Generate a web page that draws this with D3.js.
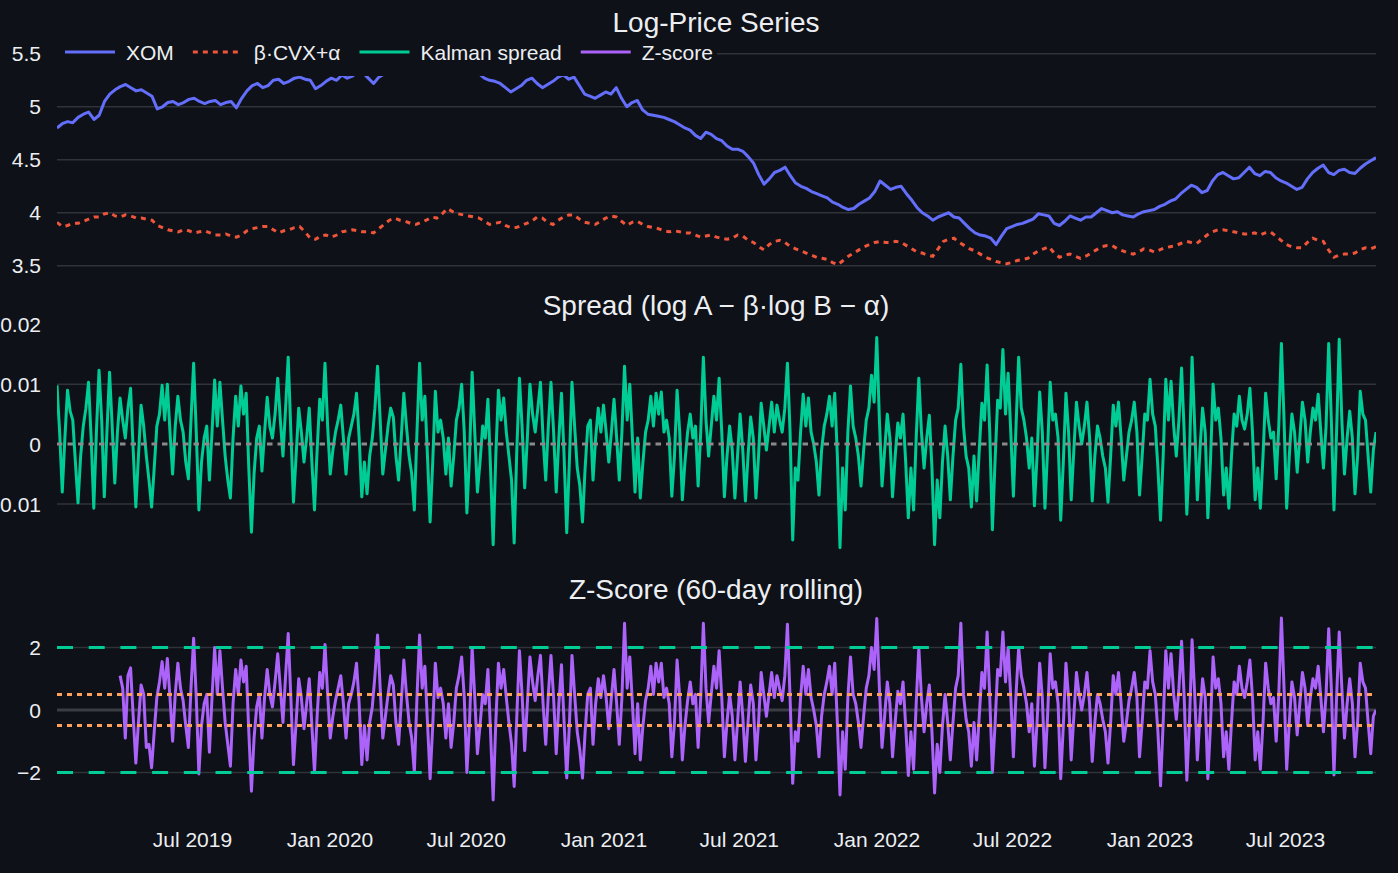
<!DOCTYPE html>
<html><head><meta charset="utf-8">
<script src="https://cdn.jsdelivr.net/npm/d3@7"></script>
<style>html,body{margin:0;padding:0;background:#0e1117;}svg{display:block;}</style>
</head><body>
<svg id="chart" width="1398" height="873"></svg>
<script>
// ---------------- data ----------------
const startDate = "2019-01-01";
const endDate = "2023-10-30";

const xTickDates = ["2019-07-01","2020-01-01","2020-07-01","2021-01-01","2021-07-01","2022-01-01","2022-07-01","2023-01-01","2023-07-01"];
const xTickLabels = ["Jul 2019","Jan 2020","Jul 2020","Jan 2021","Jul 2021","Jan 2022","Jul 2022","Jan 2023","Jul 2023"];

// log price of XOM (weekly, evenly spaced over the date range)
const xomLog = [
4.80,4.84,4.86,4.85,4.90,4.93,4.95,4.88,4.92,5.05,5.12,5.16,5.19,5.21,5.18,5.15,5.16,5.13,5.10,4.98,
5.00,5.04,5.05,5.02,5.04,5.07,5.08,5.05,5.03,5.05,5.06,5.02,5.04,5.05,4.99,5.08,5.15,5.20,5.22,5.18,
5.20,5.25,5.26,5.22,5.24,5.27,5.28,5.26,5.25,5.17,5.20,5.24,5.27,5.25,5.30,5.27,5.29,5.33,5.32,5.27,
5.22,5.28,5.31,5.35,5.38,5.40,5.42,5.39,5.36,5.35,5.33,5.37,5.40,5.43,5.45,5.41,5.38,5.36,5.34,5.33,
5.31,5.27,5.25,5.24,5.22,5.18,5.14,5.17,5.20,5.25,5.27,5.22,5.18,5.21,5.24,5.28,5.30,5.26,5.28,5.20,
5.12,5.10,5.08,5.11,5.14,5.12,5.18,5.08,5.00,5.04,5.06,4.97,4.93,4.92,4.91,4.90,4.88,4.86,4.83,4.80,
4.78,4.73,4.70,4.76,4.74,4.70,4.68,4.63,4.60,4.60,4.58,4.53,4.47,4.36,4.27,4.32,4.38,4.40,4.43,4.35,
4.28,4.25,4.23,4.20,4.18,4.16,4.14,4.10,4.08,4.05,4.03,4.04,4.08,4.11,4.14,4.20,4.30,4.26,4.22,4.24,
4.25,4.18,4.12,4.05,4.00,3.97,3.93,3.96,3.98,4.00,3.96,3.95,3.90,3.85,3.81,3.79,3.78,3.76,3.70,3.78,
3.85,3.87,3.89,3.90,3.92,3.94,3.99,3.98,3.97,3.90,3.88,3.92,3.97,3.95,3.93,3.96,3.96,4.00,4.04,4.02,
4.00,4.01,3.98,3.97,3.96,3.99,4.01,4.02,4.03,4.06,4.08,4.11,4.13,4.18,4.22,4.26,4.24,4.19,4.21,4.30,
4.36,4.38,4.35,4.32,4.33,4.38,4.43,4.37,4.35,4.39,4.38,4.33,4.30,4.28,4.25,4.22,4.24,4.32,4.38,4.42,
4.45,4.38,4.36,4.40,4.41,4.38,4.37,4.42,4.46,4.49,4.52];

// beta * log CVX + alpha (weekly)
const cvxFit = [
3.91,3.87,3.88,3.90,3.90,3.92,3.94,3.96,3.96,3.99,4.00,3.97,3.96,3.98,3.97,3.95,3.95,3.94,3.93,3.88,
3.86,3.84,3.83,3.82,3.84,3.83,3.81,3.82,3.83,3.81,3.79,3.79,3.80,3.78,3.77,3.79,3.83,3.85,3.86,3.87,
3.87,3.84,3.81,3.83,3.84,3.86,3.87,3.82,3.76,3.75,3.78,3.79,3.77,3.79,3.82,3.83,3.84,3.83,3.82,3.82,
3.81,3.85,3.89,3.93,3.95,3.93,3.92,3.90,3.89,3.91,3.93,3.96,3.95,3.99,4.04,4.01,3.99,3.98,3.97,3.96,
3.95,3.92,3.89,3.90,3.91,3.88,3.86,3.86,3.88,3.90,3.92,3.96,3.95,3.91,3.89,3.93,3.96,3.98,3.98,3.94,
3.91,3.90,3.89,3.92,3.95,3.97,3.96,3.92,3.88,3.91,3.92,3.89,3.87,3.86,3.85,3.83,3.82,3.83,3.82,3.81,
3.81,3.79,3.77,3.78,3.79,3.77,3.76,3.75,3.76,3.79,3.78,3.74,3.72,3.68,3.65,3.70,3.73,3.74,3.72,3.68,
3.66,3.64,3.62,3.60,3.58,3.57,3.56,3.53,3.51,3.55,3.59,3.62,3.65,3.68,3.70,3.72,3.73,3.72,3.72,3.73,
3.72,3.69,3.66,3.63,3.62,3.60,3.59,3.66,3.73,3.75,3.76,3.72,3.69,3.66,3.64,3.61,3.58,3.56,3.54,3.53,
3.52,3.53,3.55,3.56,3.57,3.61,3.64,3.66,3.68,3.62,3.58,3.60,3.61,3.59,3.57,3.59,3.62,3.65,3.68,3.69,
3.69,3.66,3.64,3.62,3.61,3.63,3.66,3.65,3.63,3.65,3.67,3.68,3.69,3.71,3.73,3.72,3.71,3.75,3.79,3.82,
3.84,3.84,3.83,3.82,3.81,3.80,3.80,3.81,3.79,3.81,3.82,3.78,3.74,3.70,3.68,3.67,3.67,3.72,3.76,3.74,
3.73,3.65,3.58,3.60,3.61,3.61,3.62,3.65,3.67,3.66,3.68];

// Kalman spread (twice weekly)
const spread = [
.0098,.002,-.008,.001,.009,.0055,.004,-.003,-.0098,-.002,.003,.006,.0103,.001,-.0107,.002,.0123,.004,-.0088,.002,
.012,.003,-.0065,.002,.0077,.004,.001,.006,.0093,-.001,-.0105,-.002,.0065,.003,-.002,-.006,-.0105,-.004,.003,.005,
.0098,.004,.010,.002,-.005,.003,.008,.004,.002,-.003,-.0058,.004,.0135,.002,-.011,-.003,.001,.003,-.006,.002,
.0107,.003,.0103,.004,-.002,-.006,-.009,.001,.008,.003,.0097,.005,.0085,-.004,-.0147,-.005,.001,.003,-.0045,.002,
.0078,.003,.001,.005,.011,.004,-.002,.006,.0145,.002,-.0097,-.002,.006,.002,-.003,.001,.006,-.003,-.011,-.001,
.0075,.004,.0135,.003,-.005,-.001,.002,.004,.0065,.001,-.005,.001,.003,.005,.0085,.001,-.0088,-.003,-.0083,-.002,
.001,.006,.013,.004,-.005,-.001,.003,.006,.0045,-.002,-.006,.001,.0085,.003,-.002,-.005,-.011,.002,.0135,.004,
.008,-.002,-.013,-.003,.0088,.002,.004,.001,-.005,.001,-.007,-.002,.004,.006,.010,.002,-.0115,-.002,.012,.002,
-.008,-.003,.003,.001,.0075,-.004,-.0168,-.002,.009,.004,.0077,.002,-.002,-.006,-.0165,-.001,.011,.003,-.0073,.001,
.010,.005,.002,.006,.0103,.001,-.006,.003,.0103,.002,-.008,.001,.0085,-.002,-.0148,-.003,.0103,.003,-.004,-.007,
-.013,-.004,.003,.004,-.006,.001,.006,.002,.0065,.002,-.003,.002,.0075,.001,-.006,.002,.013,.004,.010,.001,
-.008,.001,-.009,-.003,.002,.004,.008,.003,.0085,.005,.0087,.002,.004,.001,-.0087,-.002,.009,.002,-.0093,-.003,
.002,.005,.001,.003,-.007,.002,.0145,.004,-.002,.003,.008,.004,.011,.002,-.0088,-.002,.003,-.001,-.009,-.002,
.005,-.001,-.0095,-.002,.0045,.001,-.009,-.002,.0068,.003,-.001,.003,.007,.002,.0065,.004,.002,.006,.0135,.002,
-.016,-.004,-.006,.002,.0083,.003,.0077,.002,0,-.003,-.0085,-.001,.003,.005,.008,.003,.0085,-.002,-.0173,-.004,
-.011,.002,.0097,.003,.001,-.002,-.007,-.001,.004,.006,.0115,.007,.0178,.004,-.007,-.001,.005,.001,-.0088,-.002,
.0035,.001,.005,-.003,-.0123,-.004,-.011,.001,.011,.002,-.004,.001,.0048,-.004,-.0168,-.006,-.0123,-.003,.003,-.002,
-.0093,-.002,.004,.006,.0133,.003,-.002,-.004,-.0105,-.002,-.0095,-.001,.0068,.004,.0132,.002,-.0143,-.003,.0073,.006,
.0158,.005,.0118,.002,-.0087,.003,.0145,.006,.004,.001,-.004,.001,-.0103,-.002,.0087,.002,-.0107,-.001,.0103,.004,
.005,.001,-.0127,-.003,.0085,.002,-.0093,-.001,.007,.003,0,.003,.007,.001,-.0095,-.002,.003,.001,-.002,-.004,
-.0097,-.002,.0065,.003,.007,.001,-.006,-.002,.002,.004,.007,.002,-.0085,-.002,.005,.004,.0108,.005,.003,-.004,
-.0127,-.002,.0108,.004,.0105,.003,-.002,.004,.0127,.002,-.0117,-.002,.0145,.003,-.0093,-.001,.006,.002,-.0123,-.003,
.010,.004,.006,.001,-.0085,-.004,-.0107,-.002,.005,.003,.008,.004,.0025,.005,.0093,.002,-.0093,-.004,-.0107,-.002,
.0085,.004,.001,.002,-.0058,.003,.0168,.004,-.0107,-.002,.005,.002,-.0047,.001,.007,.004,-.003,.002,.006,.004,
.0083,.002,-.004,.003,.0168,.004,-.011,.002,.0175,.004,-.005,.001,.0055,.001,-.0083,-.002,.0088,.005,.004,-.002,
-.008,-.001,.002];

// 60-day rolling z-score (same sampling as spread, first value at sample 24)
const zStartSample = 24;
const zscore = [
1.1,0.7,-0.9,1.1,1.35,-0.2,-1.7,-0.4,0.8,0.5,-1.2,-1.1,-1.85,-0.7,0.4,0.9,
1.55,0.7,1.65,0.4,-1.0,0.5,1.5,0.7,0.3,-0.5,-1.2,0.7,2.3,0.4,-2.05,-0.5,0.2,0.5,-1.35,0.4,
2.0,0.5,1.9,0.7,-0.4,-1.1,-1.8,0.2,1.3,0.5,1.6,0.9,1.4,-0.7,-2.6,-0.9,0.1,0.5,-0.9,0.4,
1.3,0.5,0.1,0.9,1.8,0.7,-0.4,1.1,2.45,0.4,-1.75,-0.4,1.0,0.4,-0.6,0.2,1.0,-0.5,-2.0,-0.2,
1.2,0.7,2.1,0.5,-0.9,-0.2,0.3,0.7,1.1,0.2,-0.9,0.2,0.5,0.9,1.5,0.2,-1.75,-0.5,-1.6,-0.4,
0.1,1.1,2.4,0.7,-0.9,-0.2,0.5,1.1,0.8,-0.4,-1.1,0.2,1.6,0.5,-0.4,-0.9,-2.0,0.4,2.4,0.7,
1.4,-0.4,-2.2,-0.5,1.5,0.4,0.7,0.2,-0.9,0.2,-1.2,-0.4,0.7,1.1,1.7,0.4,-2.0,-0.4,2.0,0.4,
-1.4,-0.5,0.5,0.2,1.3,-0.7,-2.88,-0.4,1.5,0.7,1.3,0.4,-0.4,-1.1,-2.45,-0.2,1.9,0.5,-1.3,0.2,
1.7,0.9,0.3,1.1,1.75,0.2,-1.1,0.5,1.75,0.4,-1.4,0.2,1.45,-0.4,-2.18,-0.5,1.75,0.5,-0.7,-1.3,
-2.18,-0.7,0.5,0.7,-1.1,0.2,1.0,0.4,1.1,0.4,-0.6,0.4,1.3,0.2,-1.1,0.4,2.78,0.7,1.7,0.2,
-1.4,0.2,-1.6,-0.5,0.3,0.7,1.4,0.5,1.5,0.9,1.5,0.4,0.7,0.2,-1.5,-0.4,1.6,0.4,-1.6,-0.5,
0.3,0.9,0.2,0.5,-1.2,0.4,2.78,0.7,-0.4,0.5,1.4,0.7,1.9,0.4,-1.5,-0.4,0.5,-0.2,-1.6,-0.4,
0.9,-0.2,-1.65,-0.4,0.8,0.2,-1.6,-0.4,1.2,0.5,-0.2,0.5,1.2,0.4,1.1,0.7,0.3,1.1,2.75,0.4,
-2.35,-0.7,-1.0,0.4,1.4,0.5,1.3,0.4,0.0,-0.5,-1.5,-0.2,0.5,0.9,1.4,0.5,1.5,-0.4,-2.72,-0.7,
-1.9,0.4,1.7,0.5,0.2,-0.4,-1.2,-0.2,0.7,1.1,2.0,1.3,2.93,0.7,-1.2,-0.2,0.9,0.2,-1.5,-0.4,
0.6,0.2,0.9,-0.5,-2.1,-0.7,-1.9,0.2,2.0,0.4,-0.7,0.2,0.8,-0.7,-2.66,-1.1,-2.0,-0.5,0.5,-0.4,
-1.6,-0.4,0.7,1.1,2.78,0.5,-0.3,-0.7,-1.8,-0.4,-1.6,-0.2,1.2,0.7,2.5,0.4,-2.0,-0.5,1.3,1.1,
2.5,0.9,2.0,0.4,-1.5,0.5,2.0,1.1,0.7,0.2,-0.7,0.2,-1.8,-0.4,1.5,0.4,-1.85,-0.2,1.8,0.7,
0.9,0.2,-2.2,-0.5,1.5,0.4,-1.6,-0.2,1.2,0.5,0.0,0.5,1.2,0.2,-1.65,-0.4,0.5,0.2,-0.3,-0.7,
-1.7,-0.4,1.1,0.5,1.2,0.2,-1.0,-0.4,0.3,0.7,1.2,0.4,-1.5,-0.4,0.9,0.7,1.9,0.9,0.5,-0.7,
-2.43,-0.4,1.9,0.7,1.8,0.5,-0.3,0.7,2.2,0.4,-2.25,-0.4,2.25,0.5,-1.6,-0.2,1.0,0.4,-2.2,-0.5,
1.7,0.7,1.0,0.2,-1.5,-0.7,-1.9,-0.4,0.9,0.5,1.4,0.7,0.4,0.9,1.6,0.4,-1.6,-0.7,-1.9,-0.4,
1.5,0.7,0.2,0.4,-1.0,0.5,2.95,0.7,-1.9,-0.4,0.9,0.4,-0.8,0.2,1.2,0.7,-0.5,0.4,1.0,0.7,
1.4,0.4,-0.7,0.5,2.6,0.7,-2.08,0.4,2.5,0.7,-0.9,0.2,1.0,0.2,-1.5,-0.4,1.5,0.9,0.7,-0.4,
-1.4,-0.2,0.0];

const priceTicks = [3.5, 4, 4.5, 5, 5.5];
const priceTickLabels = ["3.5","4","4.5","5","5.5"];
const spreadTicks = [-0.01, 0, 0.01, 0.02];
const spreadTickLabels = ["\u22120.01","0","0.01","0.02"];
const zTicks = [-2, 0, 2];
const zTickLabels = ["\u22122","0","2"];
const entryBands = [2, -2];
const exitBands = [0.5, -0.5];

const legendNames = ["XOM", "\u03b2\u00b7CVX+\u03b1", "Kalman spread", "Z-score"];
const titles = ["Log-Price Series", "Spread (log A \u2212 \u03b2\u00b7log B \u2212 \u03b1)", "Z-Score (60-day rolling)"];

// ---------------- drawing ----------------
const BG = "#0e1117", GRID = "#30333a", TXT = "#eceef2";
const C_XOM = "#636efa", C_CVX = "#ef553b", C_SPR = "#00cc96", C_Z = "#ab63fa", C_EXIT = "#ffa15a";
const FONT = "'Liberation Sans', Arial, sans-serif";

const svg = d3.select("#chart");
svg.append("rect").attr("width",1398).attr("height",873).attr("fill",BG);

const L = 57, R = 1376;
const t0 = new Date(startDate + "T00:00:00"), t1 = new Date(endDate + "T00:00:00");
const x = d3.scaleTime().domain([t0, t1]).range([L, R]);
const evenDates = n => d3.range(n).map(i => new Date(+t0 + i * (t1 - t0) / (n - 1)));
const priceDates = evenDates(xomLog.length);
const spreadDates = evenDates(spread.length);

const panels = [
  {y: d3.scaleLinear().domain([3.46, 5.63]).range([270, 40]), ticks: priceTicks, labels: priceTickLabels, grid: priceTicks},
  {y: d3.scaleLinear().domain([-0.0185, 0.0202]).range([555, 323]), ticks: spreadTicks, labels: spreadTickLabels, grid: [-0.01, 0.01]},
  {y: d3.scaleLinear().domain([-3.3, 3.3]).range([813, 607]), ticks: zTicks, labels: zTickLabels, grid: [-2, 2]}
];

panels.forEach((p, k) => {
  const [y1, y0] = p.y.range();
  svg.append("clipPath").attr("id", "clip" + k).append("rect")
    .attr("x", L).attr("y", y0).attr("width", R - L).attr("height", y1 - y0);
  svg.append("g").selectAll("line").data(p.grid).join("line")
    .attr("x1", L).attr("x2", R).attr("y1", d => p.y(d)).attr("y2", d => p.y(d))
    .attr("stroke", GRID).attr("stroke-width", 1.5);
  svg.append("g").selectAll("text").data(p.ticks).join("text")
    .attr("x", 41).attr("y", d => p.y(d)).attr("dy", "0.36em")
    .attr("text-anchor", "end").attr("font-family", FONT).attr("font-size", 21)
    .attr("fill", TXT).text((d, i) => p.labels[i]);
});

const pz = panels[2];
svg.append("line").attr("x1", L).attr("x2", R).attr("y1", pz.y(0)).attr("y2", pz.y(0))
  .attr("stroke", "#3a3d44").attr("stroke-width", 3);

const lineGen = (dates, ys) => d3.line().x((d, i) => x(dates[i])).y(d => ys(d));

const g0 = svg.append("g").attr("clip-path", "url(#clip0)");
g0.append("path").datum(xomLog).attr("d", lineGen(priceDates, panels[0].y))
  .attr("fill", "none").attr("stroke", C_XOM).attr("stroke-width", 3).attr("stroke-linejoin", "round");
g0.append("path").datum(cvxFit).attr("d", lineGen(priceDates, panels[0].y))
  .attr("fill", "none").attr("stroke", C_CVX).attr("stroke-width", 3).attr("stroke-dasharray", "5,5");

const g1 = svg.append("g").attr("clip-path", "url(#clip1)");
g1.append("path").datum(spread).attr("d", lineGen(spreadDates, panels[1].y))
  .attr("fill", "none").attr("stroke", C_SPR).attr("stroke-width", 3).attr("stroke-linejoin", "round");
svg.append("line").attr("x1", L).attr("x2", R).attr("y1", panels[1].y(0)).attr("y2", panels[1].y(0))
  .attr("stroke", "#8a8a8a").attr("stroke-width", 3).attr("stroke-dasharray", "5.5,5");

const g2 = svg.append("g").attr("clip-path", "url(#clip2)");
const zDates = spreadDates.slice(zStartSample);
g2.append("path").datum(zscore).attr("d", lineGen(zDates, pz.y))
  .attr("fill", "none").attr("stroke", C_Z).attr("stroke-width", 3).attr("stroke-linejoin", "round");
svg.append("g").selectAll("line").data(exitBands).join("line")
  .attr("x1", L).attr("x2", R).attr("y1", d => pz.y(d)).attr("y2", d => pz.y(d))
  .attr("stroke", C_EXIT).attr("stroke-width", 3).attr("stroke-dasharray", "5,5");
svg.append("g").selectAll("line").data(entryBands).join("line")
  .attr("x1", L).attr("x2", R).attr("y1", d => pz.y(d)).attr("y2", d => pz.y(d))
  .attr("stroke", C_SPR).attr("stroke-width", 3).attr("stroke-dasharray", "16,15.7");

svg.append("g").selectAll("text").data(xTickDates).join("text")
  .attr("x", d => x(new Date(d + "T00:00:00"))).attr("y", 847)
  .attr("text-anchor", "middle").attr("font-family", FONT).attr("font-size", 21)
  .attr("fill", TXT).text((d, i) => xTickLabels[i]);

const legend = svg.append("g");
legend.append("rect").attr("x", L).attr("y", 33).attr("width", 660).attr("height", 43).attr("fill", BG);
const legStyles = [
  {c: C_XOM, dash: null}, {c: C_CVX, dash: "5,5"}, {c: C_SPR, dash: null}, {c: C_Z, dash: null}
];
let lx = 65;
legendNames.forEach((name, i) => {
  legend.append("line").attr("x1", lx).attr("x2", lx + 50).attr("y1", 52).attr("y2", 52)
    .attr("stroke", legStyles[i].c).attr("stroke-width", 3)
    .attr("stroke-dasharray", legStyles[i].dash);
  const t = legend.append("text").attr("x", lx + 61).attr("y", 52).attr("dy", "0.36em")
    .attr("font-family", FONT).attr("font-size", 21).attr("fill", TXT).text(name);
  lx = lx + 61 + t.node().getComputedTextLength() + 19;
});

const titleY = [22, 305, 589];
titles.forEach((t, i) => {
  svg.append("text").attr("x", 716).attr("y", titleY[i]).attr("dy", "0.36em")
    .attr("text-anchor", "middle").attr("font-family", FONT).attr("font-size", 28)
    .attr("fill", TXT).text(t);
});
</script>
</body></html>
